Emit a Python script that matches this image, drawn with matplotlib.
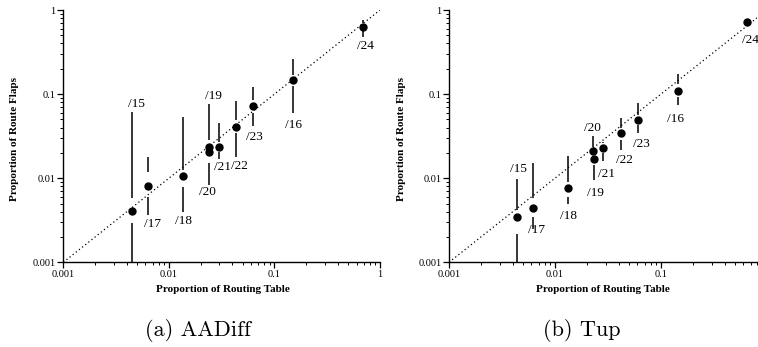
import numpy as np
import matplotlib
matplotlib.use("Agg")
import matplotlib.pyplot as plt
from matplotlib.ticker import FixedLocator, LogLocator, NullFormatter, FuncFormatter

# prefix lengths, same order in both panels
prefixes = ["/15", "/17", "/18", "/19", "/20", "/21", "/22", "/23", "/16", "/24"]

# (a) AADiff
aadiff_x = [0.00451, 0.00629, 0.0136, 0.0242, 0.0238, 0.0296, 0.0435, 0.0631, 0.151, 0.686]
aadiff_med = [0.00411, 0.00807, 0.0107, 0.0237, 0.0207, 0.0237, 0.0410, 0.0722, 0.147, 0.634]
aadiff_hi = [0.0618, 0.018, 0.054, 0.0756, 0.041, 0.0457, 0.0828, 0.120, 0.259, 0.76]
aadiff_q3 = [0.0058, 0.012, 0.0125, 0.041, 0.0285, 0.0272, 0.0492, 0.085, 0.169, 0.694]
aadiff_q1 = [0.0029, 0.00603, 0.0078, 0.0215, 0.0150, 0.0207, 0.0341, 0.059, 0.125, 0.568]
aadiff_lo = [0.0005, 0.00365, 0.0040, 0.0200, 0.0083, 0.0168, 0.018, 0.0418, 0.059, 0.482]

# (b) Tup
tup_x = [0.00434, 0.00615, 0.01315, 0.0232, 0.0230, 0.0286, 0.042, 0.0603, 0.1436, 0.651]
tup_med = [0.00349, 0.00447, 0.00758, 0.0169, 0.0212, 0.0231, 0.0342, 0.0492, 0.110, 0.714]
tup_hi = [0.00977, 0.0153, 0.01837, 0.0185, 0.0318, 0.0272, 0.0515, 0.0791, 0.173, 0.75]
tup_q3 = [0.00419, 0.00577, 0.0091, 0.0180, 0.0237, 0.0260, 0.0392, 0.0564, 0.132, 0.74]
tup_q1 = [0.00217, 0.00343, 0.00603, 0.0144, 0.0195, 0.0201, 0.0285, 0.043, 0.0932, 0.69]
tup_lo = [0.0005, 0.00247, 0.00493, 0.00952, 0.0190, 0.0162, 0.0216, 0.0348, 0.0742, 0.68]

# label offsets from the median dot, in pixels
aadiff_off = [(4, 107), (5, -38), (1, -45), (4, 51), (-1, -40), (4, -20), (3, -39), (1, -31), (0, -45), (3, -19)]
tup_off = [(2, 48), (4, -22), (1, -28), (2, -34), (-1, 23), (3, -26), (3, -27), (4, -24), (-2, -28), (3, -18)]

serif = ["Liberation Serif", "DejaVu Serif"]

fig = plt.figure(figsize=(7.58, 3.47), dpi=100)
ax1 = fig.add_axes([63.3 / 758, 1 - 262.3 / 347, 316.7 / 758, 252.3 / 347])
ax2 = fig.add_axes([449 / 758, 1 - 262.3 / 347, 308 / 758, 252.3 / 347])


def draw(ax, x, med, hi, q3, q1, lo, offs, xmax, label_x):
    ax.set_xscale("log")
    ax.set_yscale("log")
    ax.set_xlim(0.001, xmax)
    ax.set_ylim(0.001, 1)
    ax.plot([0.001, 1], [0.001, 1], color="black", lw=0.9, ls=(0, (1, 2.2)))
    ax.vlines(x, q3, hi, color="black", lw=1.1)
    ax.vlines(x, lo, q1, color="black", lw=1.1)
    ax.plot(x, med, "o", color="black", ms=5, ls="none")
    for name, xi, yi, (dx, dy) in zip(prefixes, x, med, offs):
        ax.annotate(name, (xi, yi), xytext=(dx, dy), textcoords="offset pixels",
                    ha="center", va="center", fontsize=9.5, family=serif)
    for s in ["top", "right"]:
        ax.spines[s].set_visible(False)
    for s in ["left", "bottom"]:
        ax.spines[s].set_linewidth(1.0)
    for axis in (ax.xaxis, ax.yaxis):
        axis.set_major_locator(FixedLocator([0.001, 0.01, 0.1, 1]))
        axis.set_minor_locator(LogLocator(base=10, subs=np.arange(2, 10)))
        axis.set_minor_formatter(NullFormatter())
        axis.set_major_formatter(FuncFormatter(lambda v, p: "%g" % v))
    ax.tick_params(which="major", direction="out", length=4, width=0.9, labelsize=7.5, pad=1.5)
    ax.tick_params(which="minor", direction="out", length=2.2, width=0.7)
    for t in ax.get_xticklabels() + ax.get_yticklabels():
        t.set_family(serif)
    ax.set_xlabel("Proportion of Routing Table", fontsize=8, fontweight="bold", family=serif)
    ax.set_ylabel("Proportion of Route Flaps", fontsize=8, fontweight="bold", family=serif)
    ax.xaxis.set_label_coords(label_x, -0.09)
    ax.yaxis.set_label_coords(-0.14, 0.49)


draw(ax1, aadiff_x, aadiff_med, aadiff_hi, aadiff_q3, aadiff_q1, aadiff_lo, aadiff_off, 1, 0.504)
draw(ax2, tup_x, tup_med, tup_hi, tup_q3, tup_q1, tup_lo, tup_off, 0.805, 0.50)

fig.text(198 / 758, 1 - 330 / 347, "(a) AADiff", ha="center", va="center", fontsize=16, family="cmr10")
fig.text(582 / 758, 1 - 330 / 347, "(b) Tup", ha="center", va="center", fontsize=16, family="cmr10")

fig.savefig("out.png", dpi=100)
